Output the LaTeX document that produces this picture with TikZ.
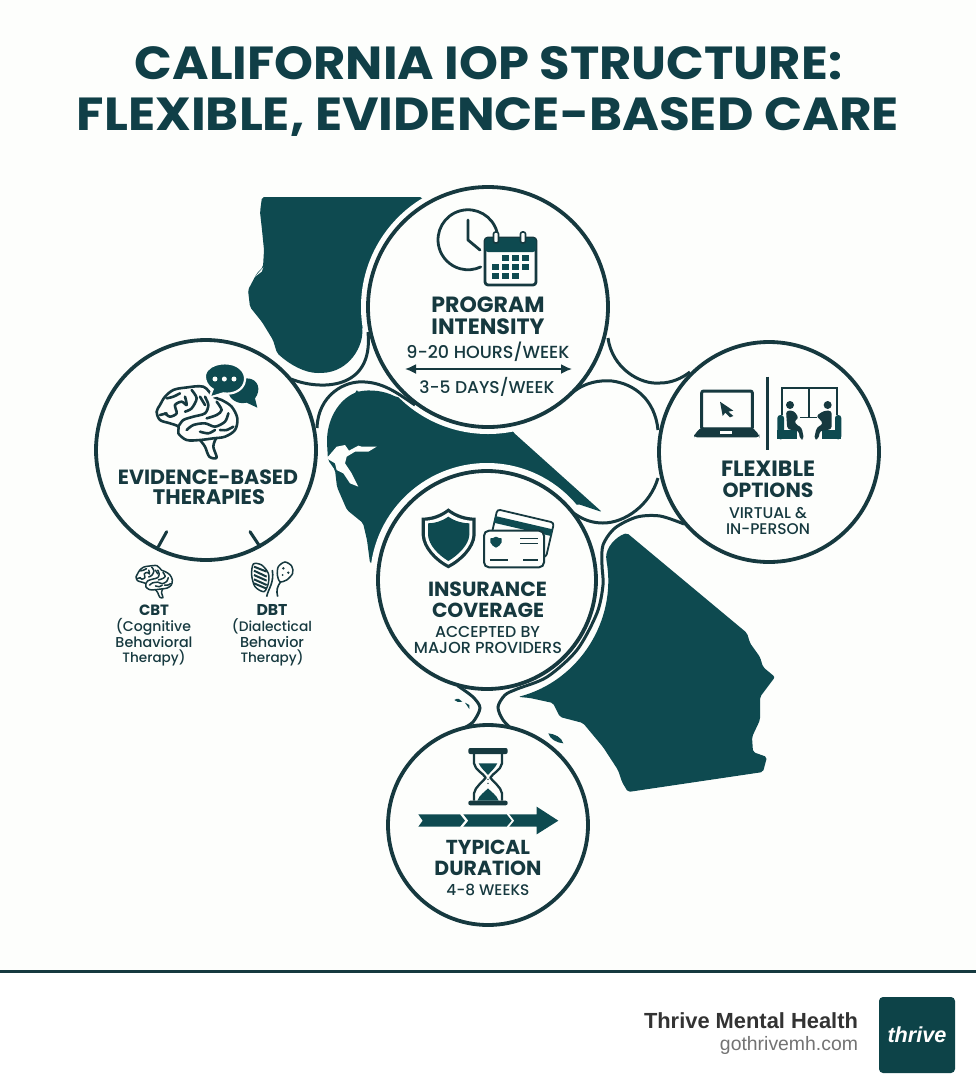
\documentclass[tikz,border=0pt]{standalone}
\usepackage{graphicx}
\usepackage{fontspec}
\setmainfont{Poppins}
\newfontfamily\footfont{Liberation Sans}
\newfontfamily\medfont{Poppins Medium}
\usetikzlibrary{arrows.meta}
\definecolor{teal}{HTML}{0E4A50}
\definecolor{ink}{HTML}{16393F}
\definecolor{titlec}{HTML}{103F47}
\definecolor{bgc}{HTML}{FDFEFC}
\tikzset{
  ring/.style={draw=ink,line width=3.8pt,fill=bgc},
  fillet/.style={draw=ink,line width=3pt},
  halo/.style={fill=bgc,draw=none},
  mapfill/.style={fill=teal,draw=none,rounded corners=2pt},
  lbl/.style={inner sep=0pt,outer sep=0pt,anchor=base,text=ink},
  icon/.style={draw=ink,line width=2.8pt,line join=round,line cap=round},
  iconf/.style={fill=teal,draw=none},
}
\newcommand{\hd}[5]{\node[lbl] (#1) at (#2,#3) {\resizebox{#4pt}{!}{\bfseries #5}};}
\newcommand{\tx}[5]{\node[lbl] (#1) at (#2,#3) {\resizebox{#4pt}{!}{\medfont #5}};}
\newcommand{\brainshape}[1]{%
  \begin{scope}[shift={(-140,-195)},draw=ink,line width=#1,line join=round,line cap=round]
  \draw[fill=bgc] plot[smooth,tension=.55] coordinates {(150,255)(165,275)(178,305)(200,308)(190,275)(198,250)};
  \draw[fill=bgc] plot[smooth cycle,tension=.55] coordinates {(20,170)(30,150)(45,125)(70,105)(105,98)(160,95)(190,125)(215,135)(245,155)(262,190)(255,225)(225,245)(190,250)(150,255)(110,255)(85,235)(85,215)(60,205)(30,195)};
  \draw plot[smooth] coordinates {(85,215)(100,195)(130,185)(165,175)(175,150)(165,125)};
  \draw plot[smooth] coordinates {(50,130)(70,125)(90,115)};
  \draw plot[smooth] coordinates {(45,175)(60,185)(80,175)(75,150)(95,140)(110,150)(105,125)};
  \draw plot[smooth] coordinates {(125,105)(140,130)(125,160)(105,170)};
  \draw plot[smooth] coordinates {(150,125)(165,150)};
  \draw plot[smooth] coordinates {(200,140)(215,165)(200,180)(170,190)};
  \draw plot[smooth] coordinates {(235,175)(225,200)(195,215)(165,205)(130,210)(110,225)};
  \draw plot[smooth] coordinates {(210,225)(230,225)(250,215)};
  \draw plot[smooth] coordinates {(150,230)(175,235)(195,225)};
  \draw plot[smooth] coordinates {(30,180)(50,175)};
  \end{scope}
}
\begin{document}
\begin{tikzpicture}[x=1pt,y=-1pt]
\useasboundingbox (0,0) rectangle (976,1088);
\fill[bgc] (0,0) rectangle (976,1088);

% title
\node[lbl,text=titlec] (t1) at (488.5,79) {\resizebox{707pt}{33pt}{\bfseries CALIFORNIA IOP STRUCTURE:}};
\node[lbl,text=titlec] (t2) at (488,130) {\resizebox{822pt}{33pt}{\bfseries FLEXIBLE, EVIDENCE-BASED CARE}};

% map pieces
\path[mapfill] (262,197) -- (422,197) -- (445,240) -- (410,330) -- (362,327)
  .. controls (364,345) and (350,372) .. (320,373)
  .. controls (305,373) and (290,365) .. (277,353)
  -- (273,340) -- (262,322) -- (250,307) -- (248,290) -- (257,273) -- (263,267) -- (264,250) -- (262,230) -- (260,212) -- cycle;
\path[mapfill] (357,392) .. controls (370,389) and (385,391) .. (396,397)
  -- (430,400) -- (500,415) -- (514,433) -- (602,512) -- (578,504) -- (540,520) -- (430,520) -- (400,560) -- (380,572) -- (370,563)
  -- (367,540) -- (363,523) -- (347,510) -- (337,487) -- (335,470) -- (328,460) -- (327,443)
  .. controls (327,420) and (338,400) .. (357,392) -- cycle;
\begin{scope}[shift={(230,180)},scale=.33333]
\fill[bgc] (290,835) -- (320,800) -- (345,795) -- (357,812) -- (385,797) -- (395,800) -- (440,800) -- (415,815) -- (375,815) -- (350,830) -- (345,850) -- (365,880) -- (385,920) -- (360,910) -- (340,880) -- (320,870) -- (315,850) -- cycle;
\fill[bgc] (75,290) -- (100,262) -- (95,275) -- cycle;
\end{scope}
\path[mapfill] (627,533) .. controls (615,537) and (606,548) .. (606.2,559)
  arc[start angle=-10,end angle=75,radius=121]
  -- (530,698) -- (553,703) -- (560,717) -- (583,723) -- (603,747) -- (618,770) -- (622,782) -- (628,792)
  -- (763,772) -- (767,757) -- (753,752) -- (752,737) -- (760,720) -- (760,697) -- (775,677) -- (763,667) -- (760,657) -- (750,643) -- (747,633) -- cycle;
% islands
\begin{scope}[shift={(370,480)},scale=.33333]
\fill[teal] (253,660) .. controls (262,652) and (272,658) .. (277,665) .. controls (268,668) and (258,666) .. (253,660) -- cycle;
\fill[teal] (285,668) -- (298,675) -- (298,687) -- cycle;
\fill[teal] (535,760) .. controls (555,762) and (575,772) .. (580,790) .. controls (560,788) and (540,778) .. (535,760) -- cycle;
\end{scope}

% halos
\fill[halo] (488,307) circle[radius=127];
\fill[halo] (487,580) circle[radius=117];
\fill[halo] (206,450) circle[radius=112];

% fillets
\path[fillet] (291,379) .. controls (318,390) and (374,392) .. (368,332);
\path[fillet] (317,428) .. controls (318,395) and (345,380) .. (365,382) .. controls (385,383) and (400,395) .. (415,405);
\path[fillet] (572,393) .. controls (585,382) and (600,380) .. (612,381) .. controls (635,384) and (655,400) .. (658,430);
\path[fillet] (608,338) .. controls (612,368) and (640,385) .. (660,383) .. controls (672,383) and (682,378) .. (690,372);
\path[fillet] (658,478) .. controls (650,505) and (625,523) .. (603,523) .. controls (585,523) and (572,514) .. (556,497);
\draw[fillet] plot[smooth] coordinates {(684,524)(660,516)(637,517)(615,528)(603,545)(602,565)(603,585)(597,613)(577,650)(547,677)(517,689)(505,695)(498,707)(503,720)(514,731)};
\draw[fillet] plot[smooth] coordinates {(458,686)(473,697)(480,708)(473,722)(462,729)};

% rings
\node[ring,circle,minimum size=240pt,inner sep=0pt] (cprog) at (488,307) {};
\node[ring,circle,minimum size=220pt,inner sep=0pt] (cther) at (206,450) {};
\node[ring,circle,minimum size=220pt,inner sep=0pt] (cflex) at (769,452) {};
\node[ring,circle,minimum size=218pt,inner sep=0pt] (cins) at (487,580) {};
\node[ring,circle,minimum size=200pt,inner sep=0pt] (cdur) at (488,825) {};

% program intensity
\hd{pa}{488}{312}{113}{PROGRAM}
\hd{pb}{488}{334}{113}{INTENSITY}
\tx{pc}{488}{358}{163}{9-20 HOURS/WEEK}
\tx{pd}{487}{393}{135}{3-5 DAYS/WEEK}
\coordinate (al) at (405,369); \coordinate (ar) at (572,369);
\draw[draw=ink,line width=1.8pt,{Latex[length=11pt,width=10pt]}-{Latex[length=11pt,width=10pt]}] (al) -- (ar);
% clock
\draw[icon] (497,232) arc[start angle=-15,end angle=-295,radius=30];
\draw[icon] (468,220) -- (468,240) -- (480,250);
% calendar
\draw[icon,fill=bgc,rounded corners=3pt] (485,238) rectangle (536,285);
\fill[teal,rounded corners=3pt] (485,238) rectangle (536,252);
\foreach \rx in {496,523}{\draw[draw=ink,line width=1.6pt,fill=bgc,rounded corners=2pt] (\rx-2.5,232) rectangle (\rx+2.5,243);}
\foreach \gx/\gy in {502/255,512/255,522/255,492/263.5,502/263.5,512/263.5,522/263.5,492/273,502/273,512/273}{\fill[teal] (\gx,\gy) rectangle ++(6.5,6);}

% therapies
\hd{ta}{208}{484}{180}{EVIDENCE-BASED}
\hd{tb}{209}{504}{112}{THERAPIES}
\begin{scope}[shift={(90,330)},scale=.33333]
\begin{scope}[shift={(320,270)}]\brainshape{2.6pt}\end{scope}
\fill[teal] (470,145) .. controls (505,145) and (515,180) .. (495,205) -- (502,233) -- (470,218) .. controls (440,225) and (420,205) .. (415,190) -- cycle;
\draw[draw=bgc,line width=2.2pt,fill=teal] (405,100) .. controls (445,100) and (468,125) .. (465,150) .. controls (462,180) and (430,195) .. (400,190) -- (358,203) -- (368,178) .. controls (345,165) and (338,135) .. (352,120) .. controls (365,105) and (385,100) .. (405,100) -- cycle;
\foreach \dx in {375,403,432}{\fill[bgc] (\dx,147) circle[radius=7.5];}
\draw[draw=ink,line width=3pt,line cap=round] (205,650) -- (230,605);
\draw[draw=ink,line width=3pt,line cap=round] (510,650) -- (480,605);
\begin{scope}[shift={(192,752)},scale=.45]\brainshape{1.5pt}\end{scope}
% dbt icon
\draw[draw=ink,line width=1.5pt,fill=bgc] plot[smooth cycle] coordinates {(490,702)(515,705)(535,730)(535,760)(522,785)(495,770)(485,735)};
\foreach \sa/\sb in {710/725,722/740,735/752,748/765,760/776}{\draw[draw=ink,line width=2pt] (492,\sa) -- (530,\sb);}
\draw[draw=ink,line width=1.5pt,fill=bgc] plot[smooth cycle] coordinates {(585,696)(605,708)(608,730)(590,750)(570,755)(562,735)(565,710)};
\fill[ink] (580,715) circle[radius=4]; \fill[ink] (595,728) circle[radius=4];\fill[ink] (578,735) circle[radius=3];
\draw[draw=ink,line width=1.6pt] (530,800) .. controls (535,775) and (553,760) .. (547,720);
\draw[draw=ink,line width=1.6pt] (563,800) .. controls (558,780) and (562,770) .. (572,755);
\end{scope}
\hd{ca}{154}{615.5}{30}{CBT}
\tx{cb}{153.5}{631.5}{75}{(Cognitive}
\tx{cc}{154}{647}{77}{Behavioral}
\tx{cd}{154}{662}{63}{Therapy)}
\hd{da}{272}{615.5}{31}{DBT}
\tx{db}{272}{631.5}{80}{(Dialectical}
\tx{dc}{272}{647}{64}{Behavior}
\tx{dd}{272}{662}{63}{Therapy)}

% flexible
\hd{fa}{768}{476}{94}{FLEXIBLE}
\hd{fb}{768}{497}{91}{OPTIONS}
\tx{fc}{768}{518}{78}{VIRTUAL \&}
\tx{fd}{768}{534}{84}{IN-PERSON}
\begin{scope}[shift={(600,340)},scale=.33333]
\draw[draw=ink,line width=3pt,rounded corners=2pt] (305,153) rectangle (457,268);
\fill[ink,rounded corners=3pt] (303,262) -- (457,262) -- (478,285) -- (478,292) -- (282,292) -- (282,285) -- cycle;
\fill[bgc] (360,272) rectangle (396,282);
\fill[ink] (360,185) -- (400,212) -- (385,215) -- (400,228) -- (390,232) -- (376,218) -- (368,228) -- cycle;
\draw[draw=ink,line width=2.5pt] (503,110) -- (503,330);
\draw[draw=ink,line width=1.8pt] (545,225) -- (545,145) -- (712,145) -- (712,225);
\draw[draw=ink,line width=1.8pt] (628,145) -- (628,232);
\fill[teal,rounded corners=3pt] (532,225) rectangle (552,298);
\fill[teal] (532,270) rectangle (590,298);
\fill[teal,rounded corners=3pt] (705,225) rectangle (724,298);
\fill[teal] (665,270) rectangle (724,298);
\fill[ink] (570,195) circle[radius=12];
\fill[ink] (683,195) circle[radius=12];
\fill[ink,rounded corners=3pt] (558,212) -- (582,212) -- (597,235) -- (585,238) -- (585,252) -- (605,262) -- (612,298) -- (600,298) -- (596,272) -- (562,268) -- cycle;
\fill[ink,rounded corners=3pt] (695,212) -- (672,212) -- (648,228) -- (660,238) -- (670,252) -- (650,262) -- (642,298) -- (655,298) -- (660,272) -- (695,268) -- cycle;
\draw[draw=ink,line width=1.6pt] (600,232) -- (650,232);
\end{scope}

% insurance
\hd{ia}{487.5}{596}{119}{INSURANCE}
\hd{ib}{488}{617}{112}{COVERAGE}
\tx{ic}{487.5}{637}{105}{ACCEPTED BY}
\tx{id}{488}{653}{148}{MAJOR PROVIDERS}
\begin{scope}[shift={(370,480)},scale=.33333]
% shield
\fill[ink] (235,85) .. controls (260,105) and (290,113) .. (317,113) -- (317,165) .. controls (315,205) and (275,245) .. (235,265) .. controls (195,245) and (157,205) .. (155,165) -- (155,113) .. controls (182,113) and (210,105) .. (235,85) -- cycle;
\fill[bgc] (235,97) .. controls (258,114) and (285,122) .. (307,122) -- (307,165) .. controls (305,200) and (270,235) .. (235,254) .. controls (200,235) and (167,200) .. (165,165) -- (165,122) .. controls (187,122) and (212,114) .. (235,97) -- cycle;
\fill[teal] (235,110) .. controls (255,124) and (278,130) .. (298,130) -- (298,165) .. controls (296,195) and (265,225) .. (235,243) .. controls (205,225) and (176,195) .. (174,165) -- (174,130) .. controls (194,130) and (215,124) .. (235,110) -- cycle;
% back card
\draw[draw=ink,line width=1.8pt,fill=bgc,rounded corners=3pt] (382,88) -- (552,128) -- (528,232) -- (358,192) -- cycle;
\fill[teal] (376,108) -- (548,148) -- (543,168) -- (371,128) -- cycle;
% front card
\draw[draw=ink,line width=2pt,fill=bgc,rounded corners=5pt] (342,152) rectangle (522,262);
\fill[teal] (378,170) .. controls (384,174) and (390,175) .. (395,175) -- (395,187) .. controls (392,195) and (385,200) .. (378,203) .. controls (371,200) and (364,195) .. (361,187) -- (361,175) .. controls (366,175) and (372,174) .. (378,170) -- cycle;
\draw[draw=ink,line width=1.3pt] (450,175) -- (505,175);
\draw[draw=ink,line width=1.3pt] (450,190) -- (505,190);
\draw[draw=ink,line width=1.3pt] (360,240) -- (415,240);
\draw[draw=ink,line width=1.3pt] (460,240) -- (505,240);
\end{scope}

% duration
\hd{ua}{488}{854}{84}{TYPICAL}
\hd{ub}{488}{875}{107}{DURATION}
\tx{uc}{488}{895}{83}{4-8 WEEKS}
\begin{scope}[shift={(370,480)},scale=.33333]
\fill[ink,rounded corners=2pt] (295,804) rectangle (413,822);
\fill[ink,rounded corners=2pt] (295,962) rectangle (413,976);
\draw[draw=ink,line width=2.3pt,line join=round] (312,822) -- (312,850) .. controls (315,870) and (340,880) .. (347,893) .. controls (340,905) and (315,920) .. (312,940) -- (312,962);
\draw[draw=ink,line width=2.3pt,line join=round] (396,822) -- (396,850) .. controls (393,870) and (368,880) .. (361,893) .. controls (368,905) and (393,920) .. (396,940) -- (396,962);
\fill[teal] (326,850) -- (382,850) .. controls (375,865) and (362,875) .. (354,885) .. controls (346,875) and (333,865) .. (326,850) -- cycle;
\fill[teal] (322,962) .. controls (328,945) and (345,935) .. (354,925) .. controls (363,935) and (380,945) .. (386,962) -- cycle;
\fill[ink] (354,898) circle[radius=2.5]; \fill[ink] (354,910) circle[radius=2.5];
\fill[teal] (145,1003) -- (270,1003) -- (285,1022) -- (270,1040) -- (145,1040) -- (158,1022) -- cycle;
\fill[teal] (280,1003) -- (410,1003) -- (425,1022) -- (410,1040) -- (280,1040) -- (295,1022) -- cycle;
\fill[teal] (418,1003) -- (500,1003) -- (500,980) -- (565,1022) -- (500,1063) -- (500,1040) -- (418,1040) -- (433,1022) -- cycle;
\end{scope}

% footer
\fill[white] (0,972) rectangle (976,1088);
\draw[draw=ink,line width=3pt] (0,971) -- (976,971);
\node[inner sep=0pt,outer sep=0pt,anchor=base east,text=black!80] (fa1) at (858,1028) {\resizebox{214pt}{!}{\footfont\bfseries Thrive Mental Health}};
\node[inner sep=0pt,outer sep=0pt,anchor=base east,text=black!55] (fa2) at (858,1050) {\resizebox{138pt}{!}{\footfont gothrivemh.com}};
\node[fill=teal!90!black,rounded corners=4pt,minimum size=76pt,inner sep=0pt,outer sep=0pt] (logo) at (917,1035) {};
\node[inner sep=0pt,outer sep=0pt,anchor=base,text=white] (logot) at (917,1042) {\resizebox{59pt}{!}{\footfont\bfseries\itshape thrive}};
\end{tikzpicture}
\end{document}
